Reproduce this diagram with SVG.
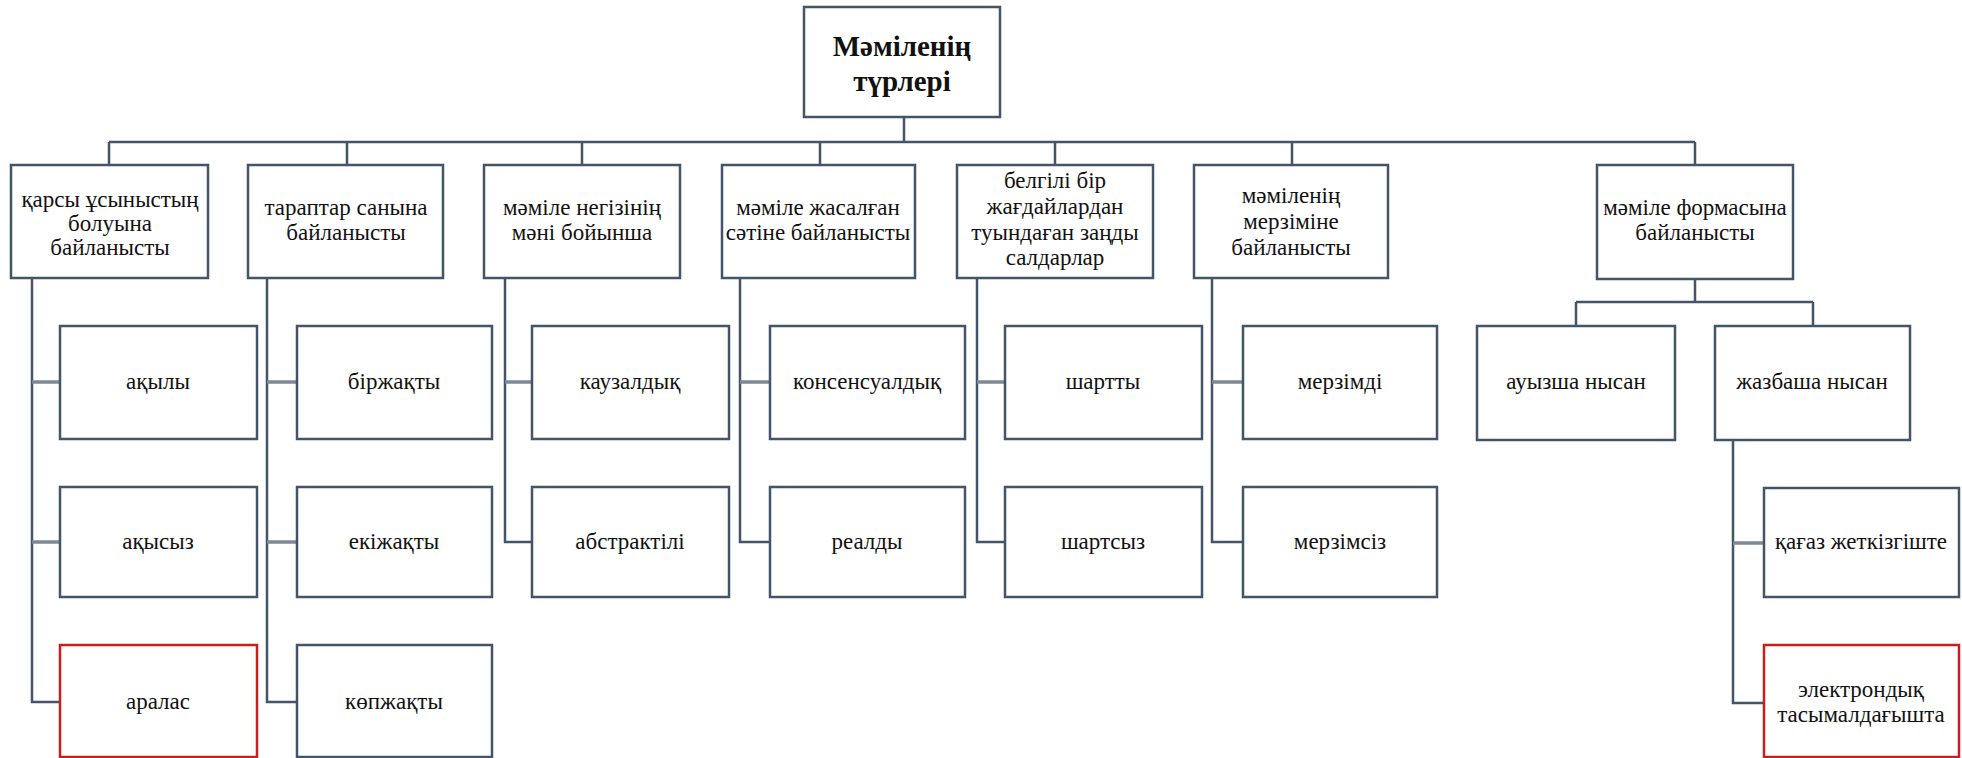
<svg xmlns="http://www.w3.org/2000/svg" width="1962" height="758" viewBox="0 0 1962 758">
<style>
.b{fill:#fff;stroke:#44546a;stroke-width:2.5}
.r{fill:#fff;stroke:#c81e1e;stroke-width:2.5}
.l{fill:none;stroke:#44546a;stroke-width:2.5}
.s{fill:none;stroke:#7e8997;stroke-width:3.5}
text{font-family:"Liberation Serif","DejaVu Serif",serif;font-size:23px;fill:#111;text-anchor:middle}
.t{font-weight:bold;font-size:29px}
</style>
<rect width="1962" height="758" fill="#fff"/>
<g id="connectors">
<path class="l" d="M904 117V142M109 142H1695M109 142V165M347 142V165M582 142V165M820 142V165M1055 142V165M1292 142V165M1695 142V165"/>
<path class="l" d="M32 278V702H60M267 278V702H297M505 278V542H532M740 278V542H770M977 278V542H1005M1212 278V542H1243"/>
<path class="s" d="M32 382H60M32 542H60M267 382H297M267 542H297M505 382H532M740 382H770M977 382H1005M1212 382H1243"/>
<path class="l" d="M1695 279V302M1576 302H1813M1576 302V326M1813 302V326M1733 440V703H1764"/>
<path class="s" d="M1733 543H1764"/>
</g>
<g id="root"><rect class="b" x="804" y="7" width="196" height="110"/><text class="t" x="902" y="56">Мәміленің</text><text class="t" x="902" y="91">түрлері</text></g>
<g id="n1"><rect class="b" x="11" y="165" width="197" height="113"/><text x="110" y="207">қарсы ұсыныстың</text><text x="110" y="231">болуына</text><text x="110" y="255">байланысты</text></g>
<g id="n2"><rect class="b" x="248" y="165" width="195" height="113"/><text x="346" y="215">тараптар санына</text><text x="346" y="240">байланысты</text></g>
<g id="n3"><rect class="b" x="484" y="165" width="196" height="113"/><text x="582" y="215">мәміле негізінің</text><text x="582" y="240">мәні бойынша</text></g>
<g id="n4"><rect class="b" x="722" y="165" width="193" height="113"/><text x="818" y="215">мәміле жасалған</text><text x="818" y="240">сәтіне байланысты</text></g>
<g id="n5"><rect class="b" x="957" y="165" width="196" height="113"/><text x="1055" y="188">белгілі бір</text><text x="1055" y="214">жағдайлардан</text><text x="1055" y="240">туындаған заңды</text><text x="1055" y="265">салдарлар</text></g>
<g id="n6"><rect class="b" x="1194" y="165" width="194" height="113"/><text x="1291" y="203">мәміленің</text><text x="1291" y="229">мерзіміне</text><text x="1291" y="255">байланысты</text></g>
<g id="n7"><rect class="b" x="1597" y="165" width="196" height="114"/><text x="1695" y="215">мәміле формасына</text><text x="1695" y="240">байланысты</text></g>
<g id="c11"><rect class="b" x="60" y="326" width="197" height="113"/><text x="158" y="389">ақылы</text></g>
<g id="c12"><rect class="b" x="60" y="487" width="197" height="110"/><text x="158" y="549">ақысыз</text></g>
<g id="c13"><rect class="r" x="60" y="645" width="197" height="112"/><text x="158" y="709">аралас</text></g>
<g id="c21"><rect class="b" x="297" y="326" width="195" height="113"/><text x="394" y="389">біржақты</text></g>
<g id="c22"><rect class="b" x="297" y="487" width="195" height="110"/><text x="394" y="549">екіжақты</text></g>
<g id="c23"><rect class="b" x="297" y="645" width="195" height="112"/><text x="394" y="709">көпжақты</text></g>
<g id="c31"><rect class="b" x="532" y="326" width="197" height="113"/><text x="630" y="389">каузалдық</text></g>
<g id="c32"><rect class="b" x="532" y="487" width="197" height="110"/><text x="630" y="549">абстрактілі</text></g>
<g id="c41"><rect class="b" x="770" y="326" width="195" height="113"/><text x="867" y="389">консенсуалдық</text></g>
<g id="c42"><rect class="b" x="770" y="487" width="195" height="110"/><text x="867" y="549">реалды</text></g>
<g id="c51"><rect class="b" x="1005" y="326" width="197" height="113"/><text x="1103" y="389">шартты</text></g>
<g id="c52"><rect class="b" x="1005" y="487" width="197" height="110"/><text x="1103" y="549">шартсыз</text></g>
<g id="c61"><rect class="b" x="1243" y="326" width="194" height="113"/><text x="1340" y="389">мерзімді</text></g>
<g id="c62"><rect class="b" x="1243" y="487" width="194" height="110"/><text x="1340" y="549">мерзімсіз</text></g>
<g id="c71"><rect class="b" x="1477" y="326" width="198" height="114"/><text x="1576" y="389">ауызша нысан</text></g>
<g id="c72"><rect class="b" x="1715" y="326" width="195" height="114"/><text x="1812" y="389">жазбаша нысан</text></g>
<g id="c81"><rect class="b" x="1764" y="488" width="195" height="109"/><text x="1861" y="549">қағаз жеткізгіште</text></g>
<g id="c82"><rect class="r" x="1764" y="645" width="195" height="112"/><text x="1861" y="697">электрондық</text><text x="1861" y="722">тасымалдағышта</text></g>
</svg>
